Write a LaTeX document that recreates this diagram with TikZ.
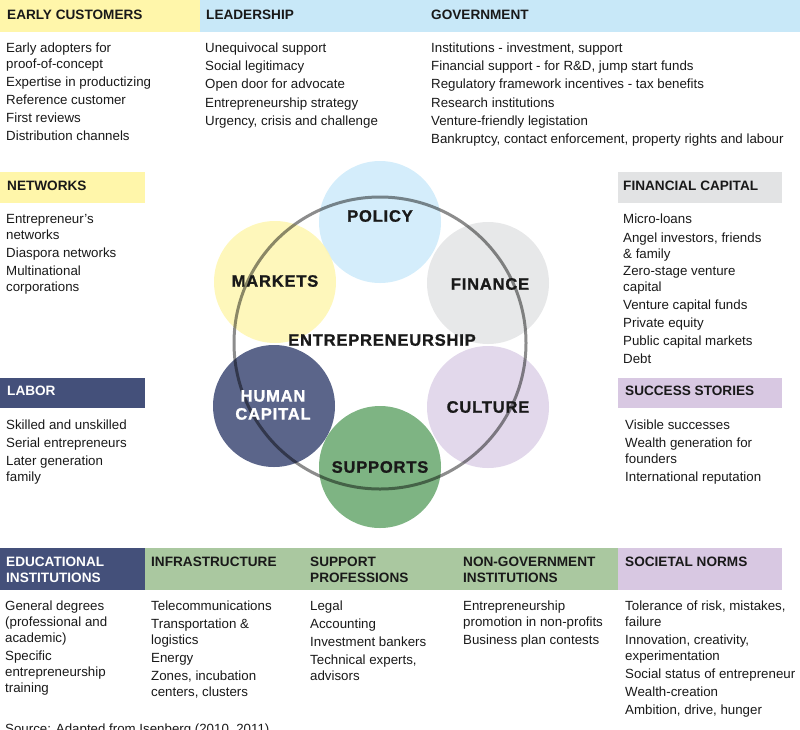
\documentclass[tikz,border=0pt]{standalone}
\usepackage{fontspec}
\setmainfont{Liberation Sans}
\newfontfamily\circfont[LetterSpace=5,FakeBold=1.2]{Liberation Sans Bold}
\definecolor{hyel}{RGB}{255,246,170}
\definecolor{cyel}{RGB}{254,246,178}
\definecolor{hblue}{RGB}{200,232,248}
\definecolor{cblue}{RGB}{206,235,250}
\definecolor{hgray}{RGB}{226,227,228}
\definecolor{cgray}{RGB}{228,229,230}
\definecolor{hpurp}{RGB}{216,200,226}
\definecolor{cpurp}{RGB}{222,211,232}
\definecolor{navy}{RGB}{68,80,122}
\definecolor{hgreen}{RGB}{170,200,160}
\definecolor{cgreen}{RGB}{108,170,114}
\definecolor{txt}{RGB}{25,25,25}
\newcommand\ml[1]{\begin{tabular}[t]{@{}l@{}}#1\end{tabular}}
\begin{document}
\begin{tikzpicture}[x=1pt,y=-1pt,
  hdrtext/.style={anchor=base west,inner sep=0pt,text=txt,font=\fontsize{13.6}{16}\selectfont\bfseries},
  itemtext/.style={anchor=base west,inner sep=0pt,text=txt,font=\fontsize{13.3}{16}\selectfont},
  bubble/.style={circle,minimum size=122pt,inner sep=0pt,fill opacity=0.88,text opacity=1},
  ctext/.style={inner sep=0pt,align=center,text=txt,font=\fontsize{16.5}{18}\selectfont\circfont}]
\useasboundingbox (0,0) rectangle (800,729);
% header bars
\fill[hyel] (0,0) rectangle (200,32);
\fill[hblue] (200,0) rectangle (800,32);
\fill[hyel] (0,172) rectangle (145,203);
\fill[navy] (0,378) rectangle (145,408);
\fill[hgray] (618,172) rectangle (782,203);
\fill[hpurp] (618,378) rectangle (782,408);
\fill[navy] (0,548) rectangle (145,590);
\fill[hgreen] (145,548) rectangle (618,590);
\fill[hpurp] (618,548) rectangle (782,590);
% headers
\node[hdrtext] (hEC) at (7,19) {EARLY CUSTOMERS};
\node[hdrtext] (hLD) at (206,19) {LEADERSHIP};
\node[hdrtext] (hGV) at (431,19) {GOVERNMENT};
\node[hdrtext] (hNW) at (7,190) {NETWORKS};
\node[hdrtext,text=white] (hLB) at (7,395) {LABOR};
\node[hdrtext] (hFC) at (623,190) {FINANCIAL CAPITAL};
\node[hdrtext] (hSS) at (625,395) {SUCCESS STORIES};
\node[hdrtext,text=white] (hED) at (6,566) {\ml{EDUCATIONAL\\INSTITUTIONS}};
\node[hdrtext] (hIF) at (151,566) {INFRASTRUCTURE};
\node[hdrtext] (hSP) at (310,566) {\ml{SUPPORT\\PROFESSIONS}};
\node[hdrtext] (hNG) at (463,566) {\ml{NON-GOVERNMENT\\INSTITUTIONS}};
\node[hdrtext] (hSN) at (625,566) {SOCIETAL NORMS};
% early customers
\node[itemtext] (ec1) at (6,52) {\ml{Early adopters for\\proof-of-concept}};
\node[itemtext] (ec2) at (6,86) {Expertise in productizing};
\node[itemtext] (ec3) at (6,104) {Reference customer};
\node[itemtext] (ec4) at (6,122) {First reviews};
\node[itemtext] (ec5) at (6,140) {Distribution channels};
% leadership
\node[itemtext] (ld1) at (205,52) {Unequivocal support};
\node[itemtext] (ld2) at (205,70) {Social legitimacy};
\node[itemtext] (ld3) at (205,88) {Open door for advocate};
\node[itemtext] (ld4) at (205,107) {Entrepreneurship strategy};
\node[itemtext] (ld5) at (205,125) {Urgency, crisis and challenge};
% government
\node[itemtext] (gv1) at (431,52) {Institutions - investment, support};
\node[itemtext] (gv2) at (431,70) {Financial support - for R\&D, jump start funds};
\node[itemtext] (gv3) at (431,88) {Regulatory framework incentives - tax benefits};
\node[itemtext] (gv4) at (431,107) {Research institutions};
\node[itemtext] (gv5) at (431,125) {Venture-friendly legistation};
\node[itemtext] (gv6) at (431,143) {Bankruptcy, contact enforcement, property rights and labour};
% networks
\node[itemtext] (nw1) at (6,223) {\ml{Entrepreneur's\\networks}};
\node[itemtext] (nw2) at (6,257) {Diaspora networks};
\node[itemtext] (nw3) at (6,275) {\ml{Multinational\\corporations}};
% labor
\node[itemtext] (lb1) at (6,429) {Skilled and unskilled};
\node[itemtext] (lb2) at (6,447) {Serial entrepreneurs};
\node[itemtext] (lb3) at (6,465) {\ml{Later generation\\family}};
% financial capital
\node[itemtext] (fc1) at (623,223) {Micro-loans};
\node[itemtext] (fc2) at (623,242) {\ml{Angel investors, friends\\\& family}};
\node[itemtext] (fc3) at (623,275) {\ml{Zero-stage venture\\capital}};
\node[itemtext] (fc4) at (623,309) {Venture capital funds};
\node[itemtext] (fc5) at (623,327) {Private equity};
\node[itemtext] (fc6) at (623,345) {Public capital markets};
\node[itemtext] (fc7) at (623,363) {Debt};
% success stories
\node[itemtext] (ss1) at (625,429) {Visible successes};
\node[itemtext] (ss2) at (625,447) {\ml{Wealth generation for\\founders}};
\node[itemtext] (ss3) at (625,481) {International reputation};
% educational
\node[itemtext] (ed1) at (5,610) {\ml{General degrees\\(professional and\\academic)}};
\node[itemtext] (ed2) at (5,660) {\ml{Specific\\entrepreneurship\\training}};
% infrastructure
\node[itemtext] (if1) at (151,610) {Telecommunications};
\node[itemtext] (if2) at (151,628) {\ml{Transportation \&\\logistics}};
\node[itemtext] (if3) at (151,662) {Energy};
\node[itemtext] (if4) at (151,680) {\ml{Zones, incubation\\centers, clusters}};
% support professions
\node[itemtext] (sp1) at (310,610) {Legal};
\node[itemtext] (sp2) at (310,628) {Accounting};
\node[itemtext] (sp3) at (310,646) {Investment bankers};
\node[itemtext] (sp4) at (310,664) {\ml{Technical experts,\\advisors}};
% NGO
\node[itemtext] (ng1) at (463,610) {\ml{Entrepreneurship\\promotion in non-profits}};
\node[itemtext] (ng2) at (463,644) {Business plan contests};
% societal norms
\node[itemtext] (sn1) at (625,610) {\ml{Tolerance of risk, mistakes,\\failure}};
\node[itemtext] (sn2) at (625,644) {\ml{Innovation, creativity,\\experimentation}};
\node[itemtext] (sn3) at (625,678) {Social status of entrepreneur};
\node[itemtext] (sn4) at (625,696) {Wealth-creation};
\node[itemtext] (sn5) at (625,714) {Ambition, drive, hunger};
% source (cut off at the bottom)
\node[itemtext] (src) at (5,733) {Source: Adapted from Isenberg (2010, 2011)};
% circles
\node[bubble,fill=cblue] (policy) at (380,222) {};
\node[bubble,fill=cyel] (markets) at (275,282) {};
\node[bubble,fill=cgray] (finance) at (488,283) {};
\node[bubble,fill=navy] (human) at (274,406) {};
\node[bubble,fill=cpurp] (culture) at (488,407) {};
\node[bubble,fill=cgreen] (supports) at (380,467) {};
\coordinate (ringc) at (380,343);
\draw[line width=3pt,draw=black,draw opacity=0.45] (ringc) circle[radius=146];
% circle labels
\node[ctext] (tpolicy) at (380,216) {POLICY};
\node[ctext] (tmarkets) at (275,281) {MARKETS};
\node[ctext] (tfinance) at (490,284) {FINANCE};
\node[ctext] (tentre) at (382,340) {ENTREPRENEURSHIP};
\node[ctext,text=white] (thuman) at (273,405) {HUMAN\\CAPITAL};
\node[ctext] (tculture) at (488,407) {CULTURE};
\node[ctext] (tsupports) at (380,467) {SUPPORTS};
\end{tikzpicture}
\end{document}
